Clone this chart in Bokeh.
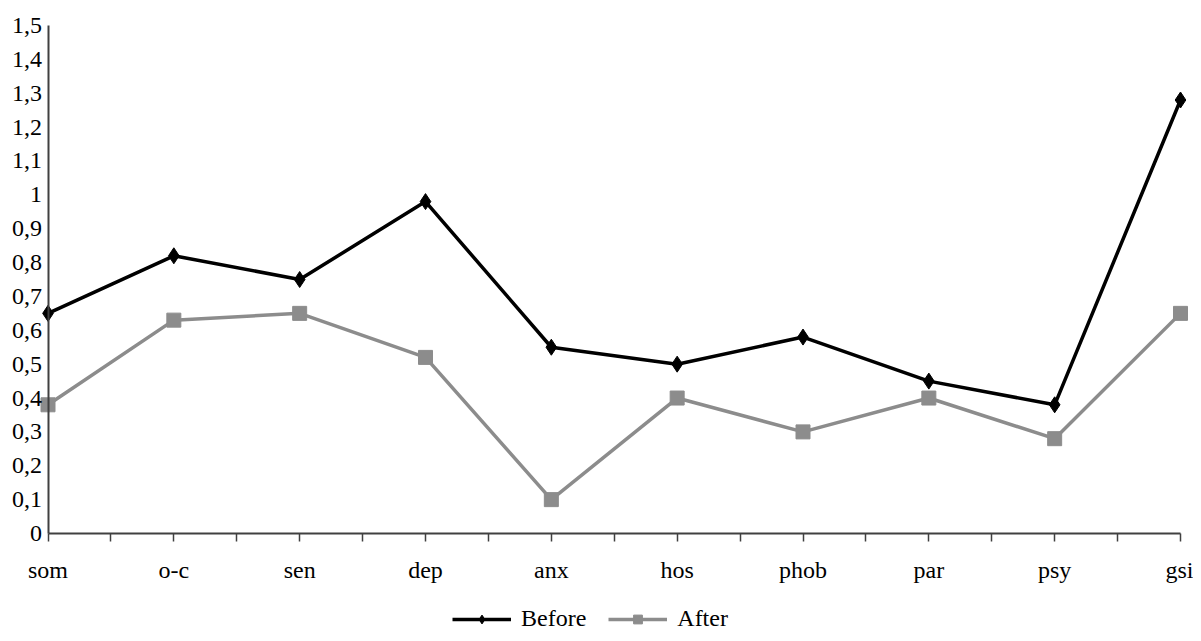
from bokeh.plotting import figure
from bokeh.models import Range1d, FixedTicker, CustomJSTickFormatter, Legend, LegendItem
from bokeh.embed import file_html
from bokeh.resources import INLINE

categories = ["som", "o-c", "sen", "dep", "anx", "hos", "phob", "par", "psy", "gsi"]
before = [0.65, 0.82, 0.75, 0.98, 0.55, 0.50, 0.58, 0.45, 0.38, 1.28]
after = [0.38, 0.63, 0.65, 0.52, 0.10, 0.40, 0.30, 0.40, 0.28, 0.65]
y_ticks = [i / 10 for i in range(16)]

xs = list(range(len(categories)))
FONT = "Liberation Serif"

# layout constants (pixels -> data units), frame covers the whole figure
W, H = 1193, 633
X0_PX, X9_PX = 47.5, 1180.0
XPX = (X9_PX - X0_PX) / (len(categories) - 1)
X_START = -X0_PX / XPX
X_END = (len(categories) - 1) + (W - X9_PX) / XPX
TOP_PX = 25
YPX = 508 / 1.5
Y_TOP = 1.5 + TOP_PX / YPX
Y_BOTTOM = -(H - TOP_PX - 508) / YPX

p = figure(width=W, height=H, output_backend="svg", toolbar_location=None,
           x_range=Range1d(X_START, X_END), y_range=Range1d(Y_BOTTOM, Y_TOP),
           min_border_left=0, min_border_right=0, min_border_top=0, min_border_bottom=0)
p.outline_line_color = None
p.xgrid.visible = False
p.ygrid.visible = False
p.background_fill_color = "white"

r1l = p.line(xs, before, line_color="black", line_width=3.5)
r1m = p.scatter(xs, before, marker="diamond", size=16, fill_color="black", line_color="black")
r2l = p.line(xs, after, line_color="#8c8c8c", line_width=3.5)
r2m = p.scatter(xs, after, marker="square", size=14, fill_color="#8c8c8c", line_color="#8c8c8c")

# x axis, pinned at y = 0
p.xaxis.fixed_location = 0
p.xaxis.bounds = (0, len(categories) - 1)
p.xaxis.ticker = FixedTicker(ticks=xs, minor_ticks=[i + 0.5 for i in xs[:-1]])
p.xaxis.formatter = CustomJSTickFormatter(args=dict(labels=categories),
                                          code="return labels[Math.round(tick)] || '';")
p.xaxis.major_tick_out = 8
p.xaxis.major_tick_in = 0
p.xaxis.minor_tick_out = 8
p.xaxis.minor_tick_in = 0
p.xaxis.major_tick_line_color = "#404040"
p.xaxis.minor_tick_line_color = "#404040"
p.xaxis.major_tick_line_width = 1.5
p.xaxis.minor_tick_line_width = 1.5
p.xaxis.axis_line_color = "#404040"
p.xaxis.axis_line_width = 2
p.xaxis.major_label_text_font = FONT
p.xaxis.major_label_text_font_size = "24px"
p.xaxis.major_label_text_color = "black"
p.xaxis.major_label_standoff = 15

# y axis, pinned at x = 0
p.yaxis.fixed_location = 0
p.yaxis.bounds = (0, 1.5)
p.yaxis.ticker = FixedTicker(ticks=y_ticks)
p.yaxis.formatter = CustomJSTickFormatter(code="return (Math.round(tick*10)/10).toString().replace('.', ',');")
p.yaxis.major_tick_out = 0
p.yaxis.major_tick_in = 0
p.yaxis.minor_tick_out = 0
p.yaxis.minor_tick_in = 0
p.yaxis.axis_line_color = "#404040"
p.yaxis.axis_line_width = 2
p.yaxis.major_label_text_font = FONT
p.yaxis.major_label_text_font_size = "24px"
p.yaxis.major_label_text_color = "black"
p.yaxis.major_label_standoff = 6

legend = Legend(items=[LegendItem(label="Before", renderers=[r1l, r1m]),
                       LegendItem(label="After", renderers=[r2l, r2m])],
                orientation="horizontal", location=(452, 1),
                label_text_font=FONT, label_text_font_size="24px", label_text_color="black",
                glyph_width=59, glyph_height=22, spacing=22, label_standoff=10, label_height=22,
                border_line_color=None, background_fill_alpha=0, padding=2, margin=0)
p.add_layout(legend, "center")

open("out.html", "w").write(file_html(p, INLINE))
